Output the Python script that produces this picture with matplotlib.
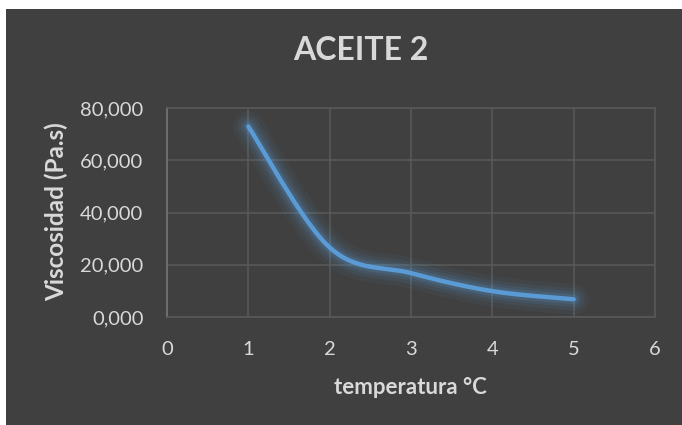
import numpy as np
import matplotlib
matplotlib.use("Agg")
import matplotlib.pyplot as plt
from matplotlib.patches import Rectangle

# data
temperatura = [1, 2, 3, 4, 5]
viscosidad = [72900, 26600, 16800, 9900, 6800]

title = "ACEITE 2"
x_label = "temperatura °C"
y_label = "Viscosidad (Pa.s)"
x_ticks = [0, 1, 2, 3, 4, 5, 6]
y_ticks = [0, 20000, 40000, 60000, 80000]
y_tick_labels = ["0,000", "20,000", "40,000", "60,000", "80,000"]

BG = "#404040"
GRID = "#595959"
TXT = "#d9d9d9"
LINE = "#5b9bd5"

plt.rcParams["font.family"] = ["Lato", "DejaVu Sans"]


def smooth_line(xs, ys, sx, sy, n=40):
    # Excel-like smoothed line: Catmull-Rom as cubic Bezier, in screen-like units
    p = np.column_stack([np.asarray(xs, float) * sx, np.asarray(ys, float) * sy])
    p = np.vstack([p[0], p, p[-1]])
    out = []
    t = np.linspace(0, 1, n)[:, None]
    for i in range(1, len(p) - 2):
        p0, p1, p2, p3 = p[i - 1], p[i], p[i + 1], p[i + 2]
        c1 = p1 + (p2 - p0) / 6
        c2 = p2 - (p3 - p1) / 6
        seg = ((1 - t) ** 3) * p1 + 3 * ((1 - t) ** 2) * t * c1 + 3 * (1 - t) * t ** 2 * c2 + t ** 3 * p2
        out.append(seg)
    out = np.vstack(out)
    return out[:, 0] / sx, out[:, 1] / sy


fig = plt.figure(figsize=(6.82, 4.25), dpi=100, facecolor="white")
fig.patches.append(Rectangle((6 / 682, 0), 676 / 682, 416 / 425,
                             transform=fig.transFigure, facecolor=BG,
                             edgecolor="none", zorder=-5))

ax = fig.add_axes([167 / 682, 1 - 317 / 425, 488 / 682, 209 / 425])
ax.set_zorder(2)
ax.set_facecolor(BG)
ax.set_xlim(0, 6)
ax.set_ylim(0, 80000)

# scale so the spline is computed in pixel-like space
sx = 488 / 6
sy = 209 / 80000
xs, ys = smooth_line(temperatura, viscosidad, sx, sy)

# soft glow
for lw, a in [(22, 0.06), (16, 0.08), (11, 0.12), (7, 0.18)]:
    ax.plot(xs, ys, color=LINE, lw=lw, alpha=a, solid_capstyle="round", zorder=2)
ax.plot(xs, ys, color=LINE, lw=3.2, solid_capstyle="round", zorder=3)

ax.set_xticks(x_ticks)
ax.set_yticks(y_ticks)
ax.set_yticklabels(y_tick_labels)
ax.grid(True, color=GRID, lw=1.1)
ax.set_axisbelow(True)
for s in ["top", "right", "bottom"]:
    ax.spines[s].set_color(GRID)
    ax.spines[s].set_linewidth(1.1)
ax.spines["left"].set_color("#6f6f6f")
ax.spines["left"].set_linewidth(1.4)
ax.tick_params(length=0, colors=TXT, labelsize=14.5)
ax.tick_params(axis="x", pad=17)
ax.tick_params(axis="y", pad=17)

ax.set_xlabel(x_label, color=TXT, fontsize=16, fontweight="bold", va="center")
ax.set_ylabel(y_label, color=TXT, fontsize=17.5, fontweight="bold", va="center")
ax.xaxis.set_label_coords(0.5 + (410 - 411) / 488, (317 - 387) / 209)
ax.yaxis.set_label_coords((56 - 167) / 488, 0.5 + (212.5 - 212) / 209)
fig.text(361 / 682, 1 - 50 / 425, title, color=TXT, fontsize=23, fontweight="bold",
         ha="center", va="center")

fig.savefig("out.png", dpi=100, facecolor="white")
